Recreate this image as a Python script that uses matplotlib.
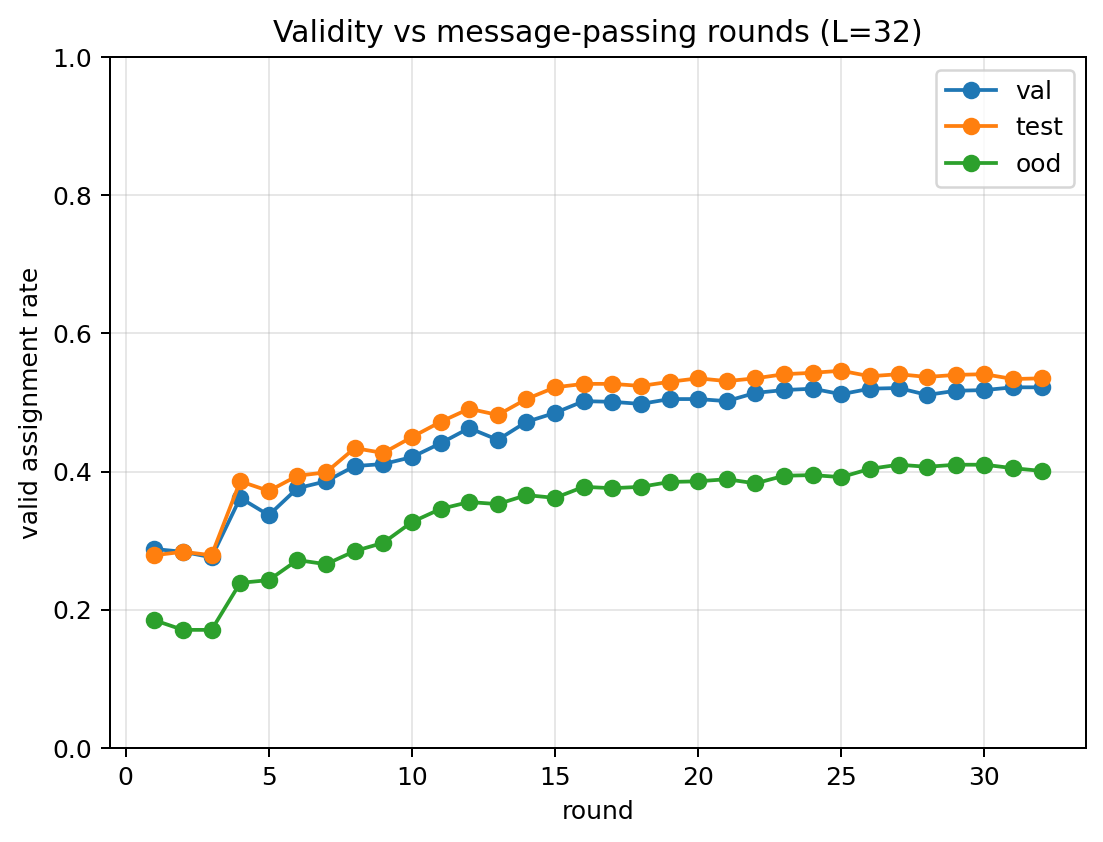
import matplotlib
matplotlib.use("Agg")
import matplotlib.pyplot as plt
import numpy as np

rounds = np.arange(1, 33)

val = [0.288, 0.284, 0.276, 0.362, 0.337, 0.376, 0.386, 0.408, 0.411, 0.421,
       0.441, 0.463, 0.446, 0.472, 0.485, 0.502, 0.501, 0.498, 0.505, 0.505,
       0.502, 0.514, 0.518, 0.520, 0.512, 0.520, 0.521, 0.511, 0.517, 0.518,
       0.522, 0.522]
test = [0.279, 0.284, 0.279, 0.386, 0.372, 0.394, 0.399, 0.434, 0.427, 0.450,
        0.472, 0.491, 0.482, 0.505, 0.522, 0.527, 0.527, 0.524, 0.530, 0.535,
        0.531, 0.535, 0.541, 0.543, 0.546, 0.538, 0.541, 0.537, 0.540, 0.541,
        0.534, 0.535]
ood = [0.185, 0.171, 0.171, 0.239, 0.243, 0.272, 0.266, 0.285, 0.297, 0.327,
       0.346, 0.356, 0.353, 0.366, 0.362, 0.378, 0.376, 0.378, 0.385, 0.386,
       0.389, 0.383, 0.394, 0.395, 0.392, 0.404, 0.410, 0.407, 0.410, 0.410,
       0.405, 0.401]

fig, ax = plt.subplots(figsize=(1103 / 180, 842 / 180), dpi=180)
fig.subplots_adjust(left=0.0997, right=0.9846, top=0.9323, bottom=0.1116)

ax.plot(rounds, val, marker='o', label='val')
ax.plot(rounds, test, marker='o', label='test')
ax.plot(rounds, ood, marker='o', label='ood')

ax.set_ylim(0, 1)
ax.set_xlabel('round')
ax.set_ylabel('valid assignment rate')
ax.set_title('Validity vs message-passing rounds (L=32)')
ax.grid(True, alpha=0.3)
ax.legend()

fig.savefig('out.png', dpi=180)
